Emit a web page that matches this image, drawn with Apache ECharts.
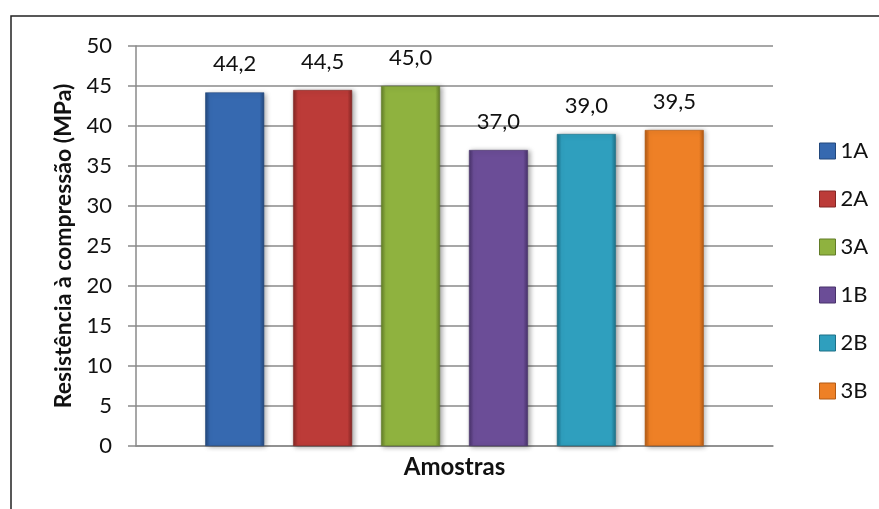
<!DOCTYPE html>
<html>
<head>
<meta charset="utf-8">
<script src="https://cdn.jsdelivr.net/npm/echarts@6/dist/echarts.min.js"></script>
<style>
html,body{margin:0;padding:0;background:#fff;}
#c{width:879px;height:509px;}
</style>
</head>
<body>
<div id="c"></div>
<script>
const categories = [''];
const seriesNames = ['1A', '2A', '3A', '1B', '2B', '3B'];
const seriesValues = [44.2, 44.5, 45.0, 37.0, 39.0, 39.5];
const yTicks = [0, 5, 10, 15, 20, 25, 30, 35, 40, 45, 50];
const baseColors = ['#3669B0', '#BC3B38', '#8FB23F', '#6B4D97', '#2F9FBE', '#EE8026'];
const darkColors = ['#23487C', '#832624', '#627C28', '#48326A', '#1D7087', '#B25A14'];

const chart = echarts.init(document.getElementById('c'), null, {renderer: 'canvas'});
const FONT = 'Lato';

const series = seriesNames.map((name, i) => ({
  name: name,
  type: 'bar',
  data: [seriesValues[i]],
  barWidth: 59,
  barGap: '49%',
  itemStyle: {
    color: new echarts.graphic.LinearGradient(0, 0, 1, 0, [
      {offset: 0, color: darkColors[i]},
      {offset: 0.08, color: baseColors[i]},
      {offset: 0.5, color: baseColors[i]},
      {offset: 0.92, color: baseColors[i]},
      {offset: 1, color: darkColors[i]}
    ]),
    borderColor: darkColors[i],
    borderWidth: 0.6,
    shadowColor: 'rgba(0,0,0,0.35)',
    shadowBlur: 5,
    shadowOffsetX: 2,
    shadowOffsetY: 1
  },
  label: {
    show: true,
    position: 'top',
    distance: 17,
    color: '#111',
    fontFamily: FONT,
    fontSize: 22,
    formatter: p => p.value.toFixed(1).replace('.', ',')
  }
}));

chart.setOption({
  animation: false,
  backgroundColor: '#fff',
  graphic: [{
    type: 'rect',
    shape: {x: 11, y: 16, width: 900, height: 520},
    style: {fill: 'none', stroke: '#222', lineWidth: 1.5},
    silent: true
  }],
  legend: {
    orient: 'vertical',
    left: 814,
    top: 135,
    itemWidth: 16,
    itemHeight: 16,
    itemGap: 26,
    icon: 'rect',
    textStyle: {fontFamily: FONT, fontSize: 22, color: '#111'},
    data: seriesNames.map((n, i) => ({name: n, itemStyle: {color: baseColors[i], borderColor: darkColors[i], borderWidth: 1}}))
  },
  grid: {left: 136, right: 106, top: 46, bottom: 63, containLabel: false},
  xAxis: {
    type: 'category',
    data: categories,
    name: 'Amostras',
    nameLocation: 'middle',
    nameGap: 9,
    nameTextStyle: {fontFamily: FONT, fontSize: 24, fontWeight: 'bold', color: '#111'},
    axisLine: {show: true, lineStyle: {color: '#8a8a8a', width: 1.5}},
    axisTick: {show: false},
    axisLabel: {show: false}
  },
  yAxis: {
    type: 'value',
    min: yTicks[0],
    max: yTicks[yTicks.length - 1],
    interval: yTicks[1] - yTicks[0],
    name: 'Resistência à compressão (MPa)',
    nameLocation: 'middle',
    nameGap: 61,
    nameRotate: 90,
    nameTextStyle: {fontFamily: FONT, fontSize: 23, fontWeight: 'bold', color: '#111'},
    axisLine: {show: true, lineStyle: {color: '#8a8a8a', width: 1.5}},
    axisTick: {show: true, inside: false, length: 8, lineStyle: {color: '#8a8a8a', width: 1.5}},
    axisLabel: {fontFamily: FONT, fontSize: 22, color: '#111', margin: 24},
    splitLine: {show: true, lineStyle: {color: '#8a8a8a', width: 1.5}}
  },
  series: series
});
</script>
</body>
</html>
